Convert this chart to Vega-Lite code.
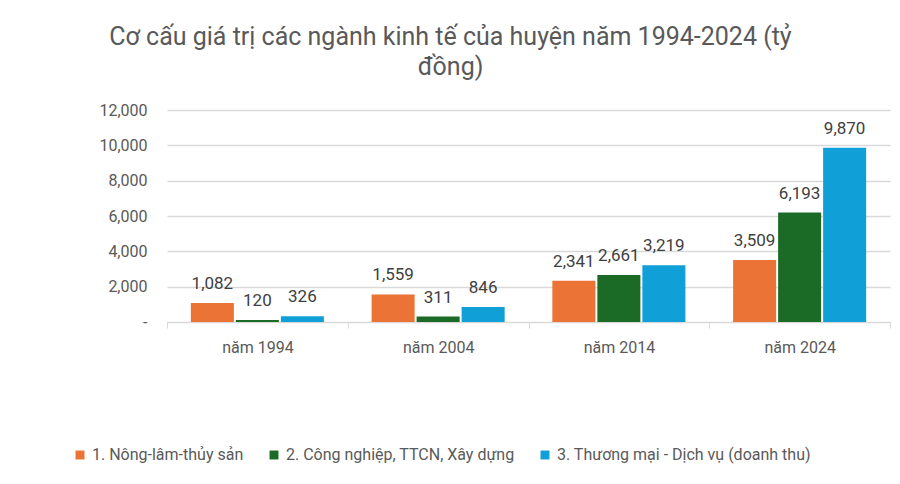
{
  "$schema": "https://vega.github.io/schema/vega-lite/v6.json",
  "width": 723,
  "height": 212,
  "autosize": {"type": "none"},
  "padding": {"left": 167, "top": 110, "right": 10, "bottom": 162},
  "background": "white",
  "config": {
    "font": "Roboto",
    "view": {"stroke": null}
  },
  "title": {
    "text": ["Cơ cấu giá trị các ngành kinh tế của huyện năm 1994-2024  (tỷ", "đồng)"],
    "fontSize": 25,
    "fontWeight": "normal",
    "color": "#595959",
    "anchor": "middle",
    "dx": -78,
    "lineHeight": 30,
    "offset": 22
  },
  "data": {
    "values": [
      {"year": "năm 1994", "sector": "1. Nông-lâm-thủy sản", "value": 1082},
      {"year": "năm 1994", "sector": "2. Công nghiệp, TTCN, Xây dựng", "value": 120},
      {"year": "năm 1994", "sector": "3. Thương mại - Dịch vụ (doanh thu)", "value": 326},
      {"year": "năm 2004", "sector": "1. Nông-lâm-thủy sản", "value": 1559},
      {"year": "năm 2004", "sector": "2. Công nghiệp, TTCN, Xây dựng", "value": 311},
      {"year": "năm 2004", "sector": "3. Thương mại - Dịch vụ (doanh thu)", "value": 846},
      {"year": "năm 2014", "sector": "1. Nông-lâm-thủy sản", "value": 2341},
      {"year": "năm 2014", "sector": "2. Công nghiệp, TTCN, Xây dựng", "value": 2661},
      {"year": "năm 2014", "sector": "3. Thương mại - Dịch vụ (doanh thu)", "value": 3219},
      {"year": "năm 2024", "sector": "1. Nông-lâm-thủy sản", "value": 3509},
      {"year": "năm 2024", "sector": "2. Công nghiệp, TTCN, Xây dựng", "value": 6193},
      {"year": "năm 2024", "sector": "3. Thương mại - Dịch vụ (doanh thu)", "value": 9870}
    ]
  },
  "encoding": {
    "x": {
      "field": "year",
      "type": "nominal",
      "scale": {"paddingInner": 0, "paddingOuter": 0},
      "axis": {
        "title": null,
        "labelAngle": 0,
        "labelFontSize": 16,
        "labelColor": "#595959",
        "labelPadding": 11,
        "domainColor": "#d9d9d9",
        "tickColor": "#d9d9d9",
        "tickBand": "extent",
        "tickSize": 6,
        "grid": false
      }
    },
    "xOffset": {
      "field": "sector",
      "type": "nominal",
      "scale": {"paddingInner": 0.044, "paddingOuter": 0.53}
    },
    "y": {
      "field": "value",
      "type": "quantitative",
      "scale": {"domain": [0, 12000]},
      "axis": {
        "title": null,
        "values": [0, 2000, 4000, 6000, 8000, 10000, 12000],
        "labelExpr": "datum.value == 0 ? '-' : format(datum.value, ',')",
        "labelFontSize": 16,
        "labelColor": "#595959",
        "labelPadding": 20,
        "ticks": false,
        "domain": false,
        "gridColor": "#d9d9d9",
        "gridWidth": 1.5
      }
    }
  },
  "layer": [
    {
      "mark": {"type": "bar"},
      "encoding": {
        "color": {
          "field": "sector",
          "type": "nominal",
          "scale": {"range": ["#EA7335", "#1B6A25", "#109FD6"]},
          "legend": {
            "title": null,
            "orient": "none",
            "direction": "horizontal",
            "legendX": -95,
            "legendY": 337,
            "symbolType": "square",
            "symbolSize": 80,
            "labelFontSize": 16,
            "labelLimit": 400,
            "labelColor": "#595959",
            "columnPadding": 22,
            "labelOffset": 4
          }
        }
      }
    },
    {
      "mark": {"type": "text", "baseline": "bottom", "dy": -10, "fontSize": 17, "color": "#404040"},
      "encoding": {
        "text": {"field": "value", "type": "quantitative", "format": ","}
      }
    }
  ]
}
